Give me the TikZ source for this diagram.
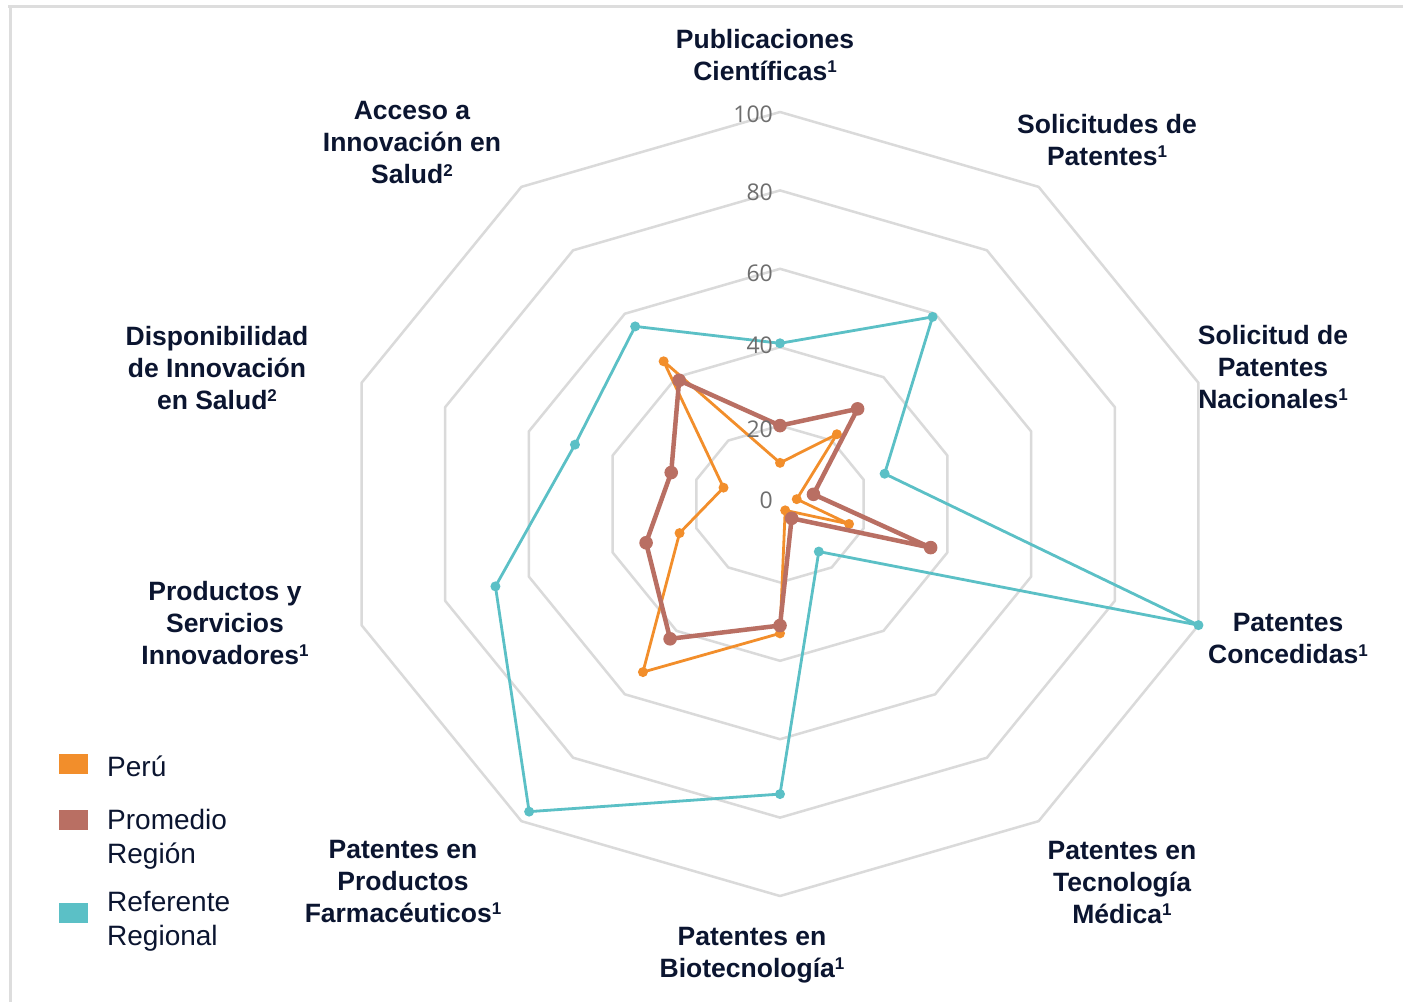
\documentclass[tikz,border=0pt]{standalone}
\usepackage{fontspec}
\setmainfont{Liberation Sans}
\newfontfamily\tickfont{Open Sans}
\usetikzlibrary{calc}
\definecolor{perucol}{HTML}{F28E2B}
\definecolor{regioncol}{HTML}{B96F63}
\definecolor{refcol}{HTML}{5BC0C6}
\definecolor{ringgray}{HTML}{DADADA}
\definecolor{framegray}{HTML}{DDDDDD}
\definecolor{labelnavy}{HTML}{0B1530}
\definecolor{tickgray}{HTML}{6E6E6E}
\newcommand\supnum[1]{\raisebox{7.5pt}{\fontsize{17}{17}\selectfont\bfseries #1}}

\begin{document}
\begin{tikzpicture}[x=1pt, y=-1pt,
  ringline/.style={draw=ringgray, line width=2.5pt, line join=round},
  axislabel/.style={align=center, inner sep=0pt, text=labelnavy, font=\bfseries\fontsize{26.5}{32}\selectfont},
  ticklabel/.style={anchor=east, inner sep=0pt, text=tickgray, font=\tickfont\fontsize{23}{23}\selectfont},
  legendtext/.style={anchor=west, align=left, inner sep=0pt, text=labelnavy, font=\fontsize{28}{34}\selectfont}]
	%%%%% START %%%%%
	\useasboundingbox (0,0) rectangle (1403,1002);
	\fill[white] (0,0) rectangle (1403,1002);
	
	% frame
	\draw[framegray, line width=3pt] (8,6) -- (1403,6);
	\draw[framegray, line width=3pt] (10,6) -- (10,1002);
	
	\begin{scope}[shift={(780,504)}, x=4.4pt, y=3.92pt]
		% rings
		\foreach \r in {20,40,60,80,100}
			\draw[ringline] (90:\r) \foreach \k in {1,...,9}{ -- ({90-36*\k}:\r)} -- cycle;
		
		% Peru
		\foreach \v [count=\k from 0] in {10.5,22,4,16.5,2,33,53,24,13.5,45}
			\coordinate (pe\k) at ({90-36*\k}:\v);
		\draw[perucol, line width=2.8pt, line join=round] (pe0) \foreach \k in {1,...,9}{ -- (pe\k)} -- cycle;
		\foreach \k in {0,...,9}
			\fill[perucol] (pe\k) circle (5pt);
		
		% Promedio Region
		\foreach \v [count=\k from 0] in {20,30,8,36,4.5,31,42.5,32,26,39}
			\coordinate (pr\k) at ({90-36*\k}:\v);
		\draw[regioncol, line width=4.5pt, line join=round] (pr0) \foreach \k in {1,...,9}{ -- (pr\k)} -- cycle;
		\foreach \k in {0,...,9}
			\fill[regioncol] (pr\k) circle (6.8pt);
		
		% Referente Regional
		\foreach \v [count=\k from 0] in {41,59,25,100,15,74,97,68,49,56}
			\coordinate (rr\k) at ({90-36*\k}:\v);
		\draw[refcol, line width=2.8pt, line join=round] (rr0) \foreach \k in {1,...,9}{ -- (rr\k)} -- cycle;
		\foreach \k in {0,...,9}
			\fill[refcol] (rr\k) circle (5pt);
	\end{scope}
	
	% ticks
	\node[ticklabel] (t100) at (773,114) {100};
	\node[ticklabel] (t80) at (773,192) {80};
	\node[ticklabel] (t60) at (773,273) {60};
	\node[ticklabel] (t40) at (773,345) {40};
	\node[ticklabel] (t20) at (773,429) {20};
	\node[ticklabel] (t0) at (773,500) {0};
	
	% axis labels
	\node[axislabel] (publ) at (765,55) {Publicaciones\\Científicas\supnum{1}};
	\node[axislabel] (solic) at (1107,140) {Solicitudes de\\Patentes\supnum{1}};
	\node[axislabel] (nacio) at (1273,367) {Solicitud de\\Patentes\\Nacionales\supnum{1}};
	\node[axislabel] (conced) at (1288,639) {Patentes\\Concedidas\supnum{1}};
	\node[axislabel] (tecmed) at (1122,882) {Patentes en\\Tecnología\\Médica\supnum{1}};
	\node[axislabel] (biotec) at (752,955) {Patentes en\\Biotecnología\supnum{1}};
	\node[axislabel] (farma) at (403,881) {Patentes en\\Productos\\Farmacéuticos\supnum{1}};
	\node[axislabel] (prodserv) at (225,623) {Productos y\\Servicios\\Innovadores\supnum{1}};
	\node[axislabel] (dispo) at (217,368) {Disponibilidad\\de Innovación\\en Salud\supnum{2}};
	\node[axislabel] (acceso) at (412,143) {Acceso a\\Innovación en\\Salud\supnum{2}};
	
	% legend
	\fill[perucol] (59,754) rectangle (88,774);
	\node[legendtext] (lperu) at (107,766) {Perú};
	\fill[regioncol] (59,810) rectangle (88,830);
	\node[legendtext] (lregion) at (107,839) {Promedio\\Región};
	\fill[refcol] (59,903) rectangle (88,923);
	\node[legendtext] (lref) at (107,921) {Referente\\Regional};
	%%%%% END %%%%%
\end{tikzpicture}
\end{document}
